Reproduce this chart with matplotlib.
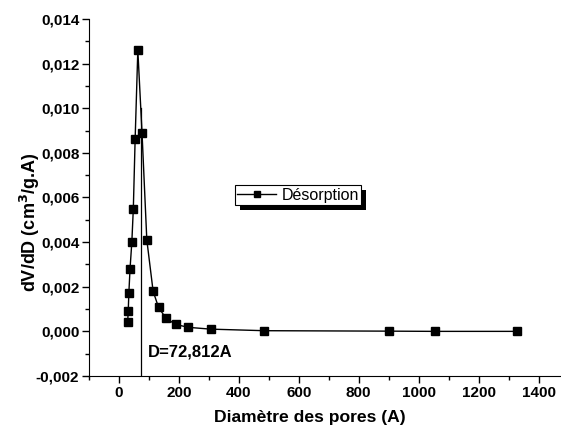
import numpy as np
import matplotlib
matplotlib.use("Agg")
import matplotlib.pyplot as plt
from matplotlib.ticker import MultipleLocator, FuncFormatter
from matplotlib.patches import Rectangle
from matplotlib.transforms import IdentityTransform

# ~~~~~~ data ~~~~~~
diametre = [29, 31, 33, 37, 43, 48, 54, 63, 77, 93, 114, 132, 156, 189, 232, 306, 485, 901, 1053, 1328]
dvdd = [0.0004, 0.0009, 0.0017, 0.0028, 0.0040, 0.0055, 0.0086, 0.0126, 0.0089, 0.0041,
        0.0018, 0.00108, 0.0006, 0.00031, 0.00018, 0.0001, 0.00003, 0.00001, 0.0, 0.0]
d_pic = 72.812
serie = "Désorption"

plt.rcParams['font.family'] = ['Liberation Sans', 'DejaVu Sans']

fig = plt.figure(figsize=(5.61, 4.30), dpi=100)
ax = fig.add_axes([0.1586, 0.1256, 0.8414, 0.8302])

ax.plot(diametre, dvdd, '-s', color='black', lw=1, markersize=5.2, label=serie)

# vertical line at the pore diameter of the peak
y_pic = np.interp(d_pic, diametre, dvdd)
ax.plot([d_pic, d_pic], [-0.002, y_pic], color='black', lw=0.9)
ax.text(d_pic + 24, -0.00092, "D=72,812A", fontsize=12, fontweight='bold', va='center')

ax.set_xlim(-100, 1475)
ax.set_ylim(-0.002, 0.014)
ax.xaxis.set_major_locator(MultipleLocator(200))
ax.xaxis.set_minor_locator(MultipleLocator(100))
ax.yaxis.set_major_locator(MultipleLocator(0.002))
ax.yaxis.set_minor_locator(MultipleLocator(0.001))
ax.xaxis.set_major_formatter(FuncFormatter(lambda v, p: "%d" % v))
ax.yaxis.set_major_formatter(FuncFormatter(lambda v, p: ("%.3f" % v).replace('.', ',')))

ax.spines['top'].set_visible(False)
ax.spines['right'].set_visible(False)
ax.tick_params(which='major', direction='out', length=5, width=1, pad=2)
ax.tick_params(which='minor', direction='out', length=3, width=1)
for lab in ax.get_xticklabels() + ax.get_yticklabels():
    lab.set_fontweight('bold')
    lab.set_fontsize(11)

ax.set_xlabel("Diamètre des pores (A)", fontsize=12.6, fontweight='bold', va='top')
ax.xaxis.set_label_coords(0.468, -0.095)
ax.set_ylabel("dV/dD (cm$^\\mathbf{3}$/g.A)", fontsize=13, fontweight='bold')
ax.yaxis.set_label_coords(-0.1, 0.431)

leg = ax.legend(loc='center', bbox_to_anchor=(0.443, 0.507), fancybox=False,
                fontsize=11.5, handlelength=2.4, handletextpad=0.35, borderpad=0.15,
                borderaxespad=0, framealpha=1, edgecolor='black', markerscale=0.8)
leg.get_frame().set_linewidth(0.8)
leg.set_zorder(6)

# solid shadow under the legend box
fig.canvas.draw()
bb = leg.get_frame().get_window_extent(fig.canvas.get_renderer())
ax.add_patch(Rectangle((bb.x0 + 5, bb.y0 - 5), bb.width, bb.height, transform=IdentityTransform(),
                       facecolor='black', edgecolor='none', zorder=5, clip_on=False))

fig.savefig("out.png", dpi=100)
